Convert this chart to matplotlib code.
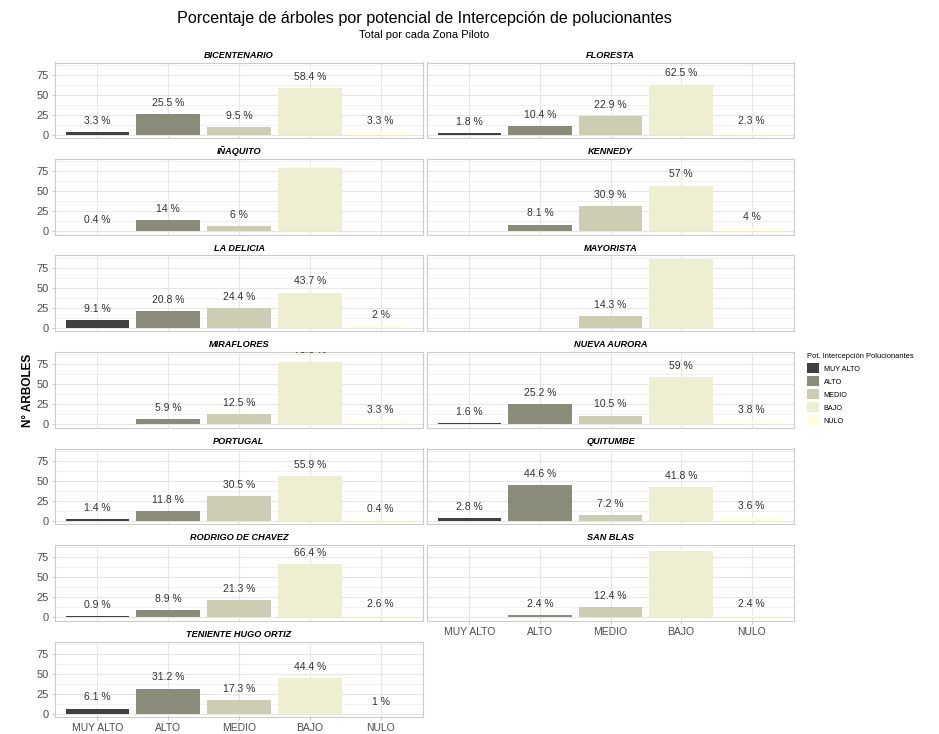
import numpy as np
import matplotlib
matplotlib.use("Agg")
import matplotlib.pyplot as plt
from matplotlib.patches import Patch

plt.rcParams["font.family"] = ["Liberation Sans", "DejaVu Sans"]

categorias = ["MUY ALTO", "ALTO", "MEDIO", "BAJO", "NULO"]
colores = ["#404040", "#8B8B7A", "#CDCDB4", "#EEEED1", "#FFFFE0"]

zonas = ["BICENTENARIO", "FLORESTA", "IÑAQUITO", "KENNEDY", "LA DELICIA", "MAYORISTA",
         "MIRAFLORES", "NUEVA AURORA", "PORTUGAL", "QUITUMBE", "RODRIGO DE CHAVEZ",
         "SAN BLAS", "TENIENTE HUGO ORTIZ"]
# porcentaje por categoria (None = sin arboles en esa categoria)
bicentenario = [3.3, 25.5, 9.5, 58.4, 3.3]
floresta = [1.8, 10.4, 22.9, 62.5, 2.3]
inaquito = [0.4, 14, 6, 79.6, None]
kennedy = [None, 8.1, 30.9, 57, 4]
la_delicia = [9.1, 20.8, 24.4, 43.7, 2]
mayorista = [None, None, 14.3, 85.7, None]
miraflores = [None, 5.9, 12.5, 78.3, 3.3]
nueva_aurora = [1.6, 25.2, 10.5, 59, 3.8]
portugal = [1.4, 11.8, 30.5, 55.9, 0.4]
quitumbe = [2.8, 44.6, 7.2, 41.8, 3.6]
rodrigo = [0.9, 8.9, 21.3, 66.4, 2.6]
san_blas = [None, 2.4, 12.4, 82.8, 2.4]
teniente = [6.1, 31.2, 17.3, 44.4, 1]
valores = [bicentenario, floresta, inaquito, kennedy, la_delicia, mayorista, miraflores,
           nueva_aurora, portugal, quitumbe, rodrigo, san_blas, teniente]

W, H = 939, 734
fig = plt.figure(figsize=(W / 100, H / 100), dpi=100)

col_x = [(55, 423), (427, 794)]
top0, pitch, ph = 62.5, 96.5, 75.5
x = np.arange(1, 6)

for i, (zona, vals) in enumerate(zip(zonas, valores)):
    r, c = divmod(i, 2)
    x0, x1 = col_x[c]
    top = top0 + r * pitch
    ax = fig.add_axes([x0 / W, 1 - (top + ph) / H, (x1 - x0) / W, ph / H])
    for xi, v, col in zip(x, vals, colores):
        if v is None:
            continue
        ax.bar(xi, v, width=0.9, color=col, zorder=2)
        ax.annotate(f"{v:g} %", (xi, v), xytext=(0, 4.5), textcoords="offset points",
                    ha="center", va="bottom", fontsize=7.5, color="#333333",
                    annotation_clip=False, clip_on=True)
    ax.set_xlim(0.4, 5.6)
    ax.set_ylim(-4.3, 90.4)
    ax.set_yticks([0, 25, 50, 75])
    ax.set_yticks([12.5, 37.5, 62.5, 87.5], minor=True)
    ax.set_xticks(x)
    ax.grid(which="major", color="#e6e6e6", lw=0.8, zorder=0)
    ax.grid(which="minor", axis="y", color="#ececec", lw=0.5, zorder=0)
    ax.set_axisbelow(True)
    for s in ax.spines.values():
        s.set_color("#cccccc")
        s.set_linewidth(0.8)
    ax.tick_params(which="major", length=2.5, color="#cccccc", labelsize=8,
                   labelcolor="#4d4d4d", pad=2)
    ax.tick_params(which="minor", length=0)
    bottom_row = i in (11, 12)
    if bottom_row:
        ax.set_xticklabels(categorias, fontsize=7.5)
    else:
        ax.tick_params(axis="x", length=0, labelbottom=False)
    if c == 1:
        ax.tick_params(axis="y", length=0, labelleft=False)
    ax.set_title(zona, fontsize=6.6, fontweight="bold", fontstyle="italic", pad=3.5)

fig.text(424 / W, 1 - 18 / H, "Porcentaje de árboles por potencial de Intercepción de polucionantes",
         ha="center", va="center", fontsize=11.6)
fig.text(424 / W, 1 - 35 / H, "Total por cada Zona Piloto", ha="center", va="center", fontsize=8)
fig.text(28 / W, 1 - 390 / H, "N° ARBOLES", rotation=90, ha="center", va="center",
         fontsize=8.5, fontweight="bold")

handles = [Patch(facecolor=col, label=cat) for cat, col in zip(categorias, colores)]
leg = fig.legend(handles=handles, title="Pot. Intercepción Polucionantes", loc="upper left",
                 bbox_to_anchor=(802 / W, 1 - 348 / H), frameon=False, fontsize=5.2,
                 title_fontsize=5.4, handlelength=1.7, handleheight=1.7, labelspacing=0.45,
                 handletextpad=0.6, borderpad=0.2)
leg._legend_box.align = "left"

fig.savefig("out.png", dpi=100)
